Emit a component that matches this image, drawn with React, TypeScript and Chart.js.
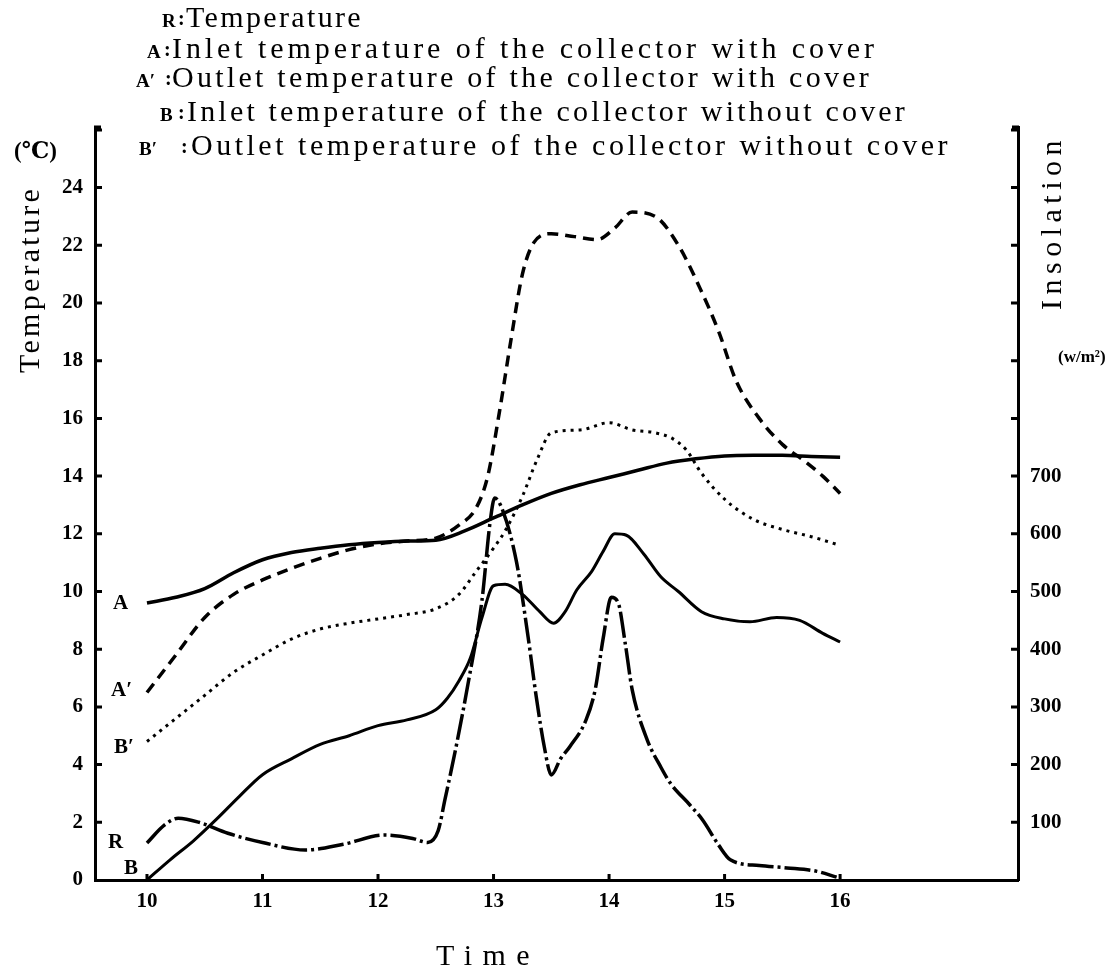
import React, { useEffect, useRef } from "react";
import { Chart, registerables } from "chart.js";

Chart.register(...registerables);

// ---------- data ----------
const timeA = [10, 10.25, 10.5, 10.75, 11, 11.25, 11.5, 11.75, 12, 12.25, 12.5, 12.75, 13, 13.25, 13.5, 13.75, 14, 14.25, 14.5, 14.75, 15, 15.25, 15.5, 15.75, 16];
const inletWithCover = [9.6, 9.8, 10.1, 10.65, 11.1, 11.35, 11.5, 11.62, 11.7, 11.75, 11.78, 12.1, 12.55, 13.0, 13.4, 13.7, 13.95, 14.2, 14.45, 14.6, 14.7, 14.72, 14.72, 14.68, 14.65];

const timeA2 = [10, 10.25, 10.5, 10.75, 11, 11.25, 11.5, 11.75, 12, 12.25, 12.5, 12.7, 12.85, 12.95, 13.05, 13.15, 13.25, 13.35, 13.5, 13.7, 13.9, 14.05, 14.2, 14.4, 14.6, 14.8, 14.95, 15.1, 15.3, 15.5, 15.7, 15.85, 16];
const outletWithCover = [6.5, 7.8, 9.1, 9.9, 10.4, 10.8, 11.15, 11.45, 11.65, 11.75, 11.85, 12.3, 12.9, 14.0, 16.2, 18.7, 21.0, 22.1, 22.4, 22.3, 22.2, 22.6, 23.15, 23.0, 22.0, 20.4, 19.0, 17.3, 16.0, 15.1, 14.5, 14.0, 13.4];

const timeB2 = [10, 10.25, 10.5, 10.75, 11, 11.25, 11.5, 11.75, 12, 12.25, 12.5, 12.7, 12.85, 13, 13.1, 13.25, 13.38, 13.5, 13.75, 14, 14.2, 14.4, 14.55, 14.67, 14.8, 15, 15.25, 15.5, 15.75, 16];
const outletWithoutCover = [4.8, 5.6, 6.4, 7.2, 7.8, 8.35, 8.7, 8.9, 9.05, 9.2, 9.4, 9.9, 10.7, 11.5, 12.1, 13.3, 14.6, 15.5, 15.6, 15.85, 15.6, 15.5, 15.3, 14.9, 14.1, 13.2, 12.5, 12.15, 11.9, 11.6];

const timeB = [10, 10.2, 10.4, 10.6, 10.8, 11, 11.25, 11.5, 11.75, 12, 12.25, 12.5, 12.6, 12.7, 12.8, 12.9, 13, 13.1, 13.25, 13.4, 13.52, 13.62, 13.72, 13.85, 13.95, 14.05, 14.15, 14.3, 14.45, 14.6, 14.8, 15, 15.22, 15.45, 15.65, 15.85, 16];
const inletWithoutCover = [0, 0.7, 1.35, 2.1, 2.9, 3.65, 4.2, 4.7, 5.0, 5.35, 5.55, 5.9, 6.3, 6.9, 7.7, 9.1, 10.2, 10.25, 9.9, 9.3, 8.9, 9.3, 10.05, 10.7, 11.4, 12.0, 11.95, 11.3, 10.5, 10.0, 9.3, 9.05, 8.95, 9.1, 9.0, 8.55, 8.25];

const timeR = [10, 10.15, 10.27, 10.45, 10.7, 11, 11.37, 11.7, 12.06, 12.3, 12.43, 12.52, 12.58, 12.67, 12.78, 12.9, 12.97, 13.01, 13.08, 13.2, 13.3, 13.37, 13.44, 13.5, 13.58, 13.66, 13.8, 13.88, 13.95, 14.02, 14.08, 14.14, 14.2, 14.33, 14.45, 14.53, 14.7, 14.81, 14.95, 15.05, 15.3, 15.54, 15.8, 15.97];
const insolation = [64, 95, 107, 100, 81, 65, 52, 62, 78, 72, 65, 85, 140, 225, 341, 485, 620, 662, 640, 550, 420, 317, 230, 182, 210, 231, 277, 330, 420, 490, 480, 410, 330, 243, 195, 168, 130, 104, 60, 35, 25, 21, 15, 5];

const timeTicks = [10, 11, 12, 13, 14, 15, 16];
const temperatureTicks = [0, 2, 4, 6, 8, 10, 12, 14, 16, 18, 20, 22, 24, 26];
const insolationTicks = [0, 100, 200, 300, 400, 500, 600, 700, 800, 900, 1000, 1100, 1200, 1300];
const insolationLabelled = [100, 200, 300, 400, 500, 600, 700];

const legendKeys = ["R", "A", "A\u2032", "B", "B\u2032"];
const legendTexts = [
  "Temperature",
  "Inlet temperature of the collector with cover",
  "Outlet temperature of the collector with cover",
  "Inlet temperature of the collector without cover",
  "Outlet temperature of the collector without cover",
];

const SERIF = '"Liberation Serif", "DejaVu Serif", serif';

function pts(xs: number[], ys: number[]) {
  return xs.map((x, i) => ({ x, y: ys[i] }));
}

function fitText(ctx: any, text: string, x: number, y: number, width: number, font: string) {
  ctx.font = font;
  ctx.letterSpacing = "0px";
  const w = ctx.measureText(text).width;
  const n = Array.from(text).length;
  const ls = n > 0 ? (width - w) / n : 0;
  ctx.letterSpacing = ls + "px";
  ctx.fillText(text, x, y);
  ctx.letterSpacing = "0px";
}

const layoutGeom = [
  { kx: 162, cx: 178, dx: 186, dw: 177, y: 27 },
  { kx: 147, cx: 164, dx: 172, dw: 706, y: 58 },
  { kx: 136, cx: 165, dx: 172, dw: 700, y: 87 },
  { kx: 160, cx: 178, dx: 187, dw: 721, y: 121 },
  { kx: 139, cx: 181, dx: 191, dw: 760, y: 155 },
];

const decorPlugin = {
  id: "decor",
  beforeDraw(chart: any) {
    const ctx = chart.ctx;
    ctx.save();
    ctx.fillStyle = "#fff";
    ctx.fillRect(0, 0, chart.width, chart.height);
    ctx.restore();
  },
  afterDraw(chart: any) {
    const ctx = chart.ctx;
    const { x, y, y1 } = chart.scales;
    const area = chart.chartArea;
    ctx.save();
    ctx.strokeStyle = "#000";
    ctx.fillStyle = "#000";
    ctx.lineWidth = 3;
    // inward tick marks
    ctx.beginPath();
    x.ticks.forEach((t: any) => {
      const px = x.getPixelForValue(t.value);
      ctx.moveTo(px, area.bottom);
      ctx.lineTo(px, area.bottom - 6);
    });
    y.ticks.forEach((t: any) => {
      const py = y.getPixelForValue(t.value);
      if (t.value === 0) return;
      ctx.moveTo(area.left, py);
      ctx.lineTo(area.left + 7, py);
    });
    y1.ticks.forEach((t: any) => {
      const py = y1.getPixelForValue(t.value);
      if (t.value === 0) return;
      ctx.moveTo(area.right, py);
      ctx.lineTo(area.right - 7, py);
    });
    // top hooks of the vertical axes
    ctx.moveTo(area.left - 1, area.top);
    ctx.lineTo(area.left + 6, area.top);
    ctx.moveTo(area.right + 1, area.top);
    ctx.lineTo(area.right - 6, area.top);
    ctx.stroke();

    // legend lines at the top
    ctx.textBaseline = "alphabetic";
    ctx.textAlign = "left";
    legendKeys.forEach((k, i) => {
      const g = layoutGeom[i];
      ctx.font = `bold 19px ${SERIF}`;
      ctx.fillText(k, g.kx, g.y);
      ctx.font = `bold 20px ${SERIF}`;
      ctx.fillText(":", g.cx, g.y - 2);
      fitText(ctx, legendTexts[i], g.dx, g.y, g.dw, `30px ${SERIF}`);
    });

    // axis titles
    ctx.save();
    ctx.translate(39, 373);
    ctx.rotate(-Math.PI / 2);
    fitText(ctx, "Temperature", 0, 0, 187, `30px ${SERIF}`);
    ctx.restore();

    ctx.font = `bold 23px ${SERIF}`;
    ctx.fillText("(\u2103)", 14, 158);

    ctx.save();
    ctx.translate(1061, 310);
    ctx.rotate(-Math.PI / 2);
    fitText(ctx, "Insolation", 0, 0, 175, `30px ${SERIF}`);
    ctx.restore();

    ctx.font = `bold 17px ${SERIF}`;
    ctx.fillText("(w/m\u00B2)", 1058, 362);

    fitText(ctx, "Time", 436, 965, 104, `30px ${SERIF}`);

    // curve labels
    ctx.textBaseline = "middle";
    ctx.font = `bold 21px ${SERIF}`;
    ctx.textAlign = "left";
    ctx.fillText("A", 113, 604);
    ctx.fillText("A\u2032", 111, 691);
    ctx.fillText("B\u2032", 114, 748);
    ctx.fillText("R", 108, 843);
    ctx.fillText("B", 124, 869);
    ctx.restore();
  },
};

export default function App() {
  const ref = useRef<HTMLCanvasElement | null>(null);

  useEffect(() => {
    if (!ref.current) return;
    const tickFont = { family: SERIF, size: 21, weight: "bold" as const };
    const chart = new Chart(ref.current, {
      type: "line",
      data: {
        datasets: [
          {
            label: legendTexts[1],
            data: pts(timeA, inletWithCover),
            borderColor: "#000",
            borderWidth: 3.5,
            yAxisID: "y",
          },
          {
            label: legendTexts[2],
            data: pts(timeA2, outletWithCover),
            borderColor: "#000",
            borderWidth: 3.5,
            borderDash: [11, 7],
            yAxisID: "y",
          },
          {
            label: legendTexts[4],
            data: pts(timeB2, outletWithoutCover),
            borderColor: "#000",
            borderWidth: 3,
            borderDash: [3, 5],
            yAxisID: "y",
          },
          {
            label: legendTexts[3],
            data: pts(timeB, inletWithoutCover),
            borderColor: "#000",
            borderWidth: 3,
            yAxisID: "y",
          },
          {
            label: legendTexts[0],
            data: pts(timeR, insolation),
            borderColor: "#000",
            borderWidth: 3.5,
            borderDash: [26, 4, 3, 4],
            yAxisID: "y1",
          },
        ],
      },
      options: {
        responsive: false,
        animation: false,
        events: [],
        layout: { padding: { top: 127, left: 0, right: 0, bottom: 0 } },
        elements: {
          point: { radius: 0 },
          line: { cubicInterpolationMode: "monotone", fill: false },
        },
        plugins: {
          legend: { display: false },
          title: { display: false },
          tooltip: { enabled: false },
        },
        scales: {
          x: {
            type: "linear",
            min: 9.55,
            max: 17.54,
            afterBuildTicks: (s: any) => {
              s.ticks = timeTicks.map((v) => ({ value: v }));
            },
            afterFit: (s: any) => {
              s.height = 98;
            },
            grid: { display: false, drawTicks: false },
            border: { display: true, color: "#000", width: 3 },
            ticks: {
              color: "#000",
              font: tickFont,
              padding: 9,
              maxRotation: 0,
              autoSkip: false,
              callback: (v: any) => String(v),
            },
          },
          y: {
            type: "linear",
            position: "left",
            min: 0,
            max: 26.1,
            afterBuildTicks: (s: any) => {
              s.ticks = temperatureTicks.map((v) => ({ value: v }));
            },
            afterFit: (s: any) => {
              s.width = 95;
            },
            grid: { display: false, drawTicks: false },
            border: { display: true, color: "#000", width: 3 },
            ticks: {
              color: "#000",
              font: tickFont,
              padding: 12,
              autoSkip: false,
              callback: (v: any) => (v <= 24 ? String(v) : ""),
            },
          },
          y1: {
            type: "linear",
            position: "right",
            min: 0,
            max: 1305,
            afterBuildTicks: (s: any) => {
              s.ticks = insolationTicks.map((v) => ({ value: v }));
            },
            afterFit: (s: any) => {
              s.width = 90;
            },
            grid: { display: false, drawTicks: false },
            border: { display: true, color: "#000", width: 3 },
            ticks: {
              color: "#000",
              font: tickFont,
              padding: 12,
              autoSkip: false,
              callback: (v: any) => (insolationLabelled.includes(v) ? String(v) : ""),
            },
          },
        },
      },
      plugins: [decorPlugin],
    });
    return () => chart.destroy();
  }, []);

  return (
    <div style={{ position: "fixed", left: 0, top: 0, width: 1108, height: 978, background: "#fff" }}>
      <canvas ref={ref} width={1108} height={978} style={{ display: "block", width: 1108, height: 978 }} />
    </div>
  );
}
